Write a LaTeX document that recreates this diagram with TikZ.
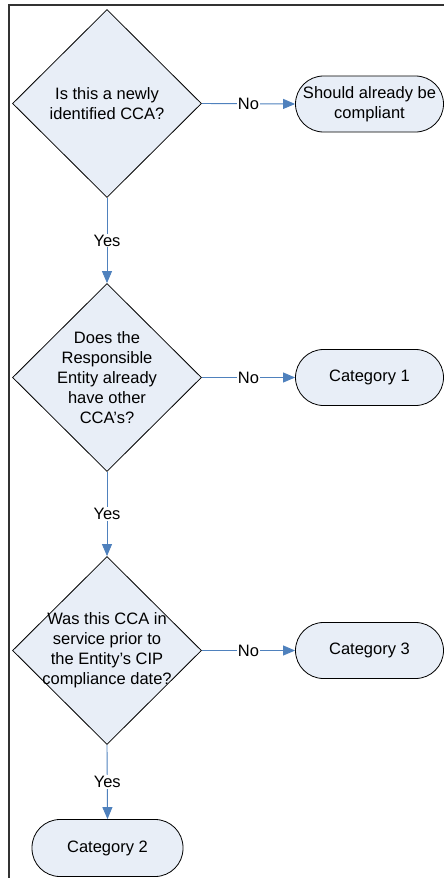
\documentclass[tikz,border=0pt]{standalone}
\usepackage{fontspec}
\setmainfont{Liberation Sans}
\usetikzlibrary{shapes.geometric,arrows.meta}
\definecolor{boxfill}{HTML}{E8EEF7}
\definecolor{flowblue}{HTML}{4F81BD}
\definecolor{framegray}{HTML}{333333}
\tikzset{
  decision/.style={diamond, draw=black, fill=boxfill, line width=0.8pt,
    minimum width=189pt, minimum height=188pt, inner sep=0pt, aspect=1},
  qtext/.style={align=center, font=\fontsize{16.5}{20}\selectfont, inner sep=0pt},
  terminal/.style={rectangle, rounded corners=28pt, draw=black, fill=boxfill,
    line width=0.8pt, minimum height=56pt, align=center, inner sep=0pt,
    font=\fontsize{16.5}{20}\selectfont},
  flow/.style={draw=flowblue, line width=0.9pt,
    -{Triangle[length=12pt,width=10pt,fill=flowblue]}},
  answer/.style={fill=white, inner sep=1pt, font=\fontsize{16.5}{20}\selectfont}
}
\begin{document}
\begin{tikzpicture}[x=1pt,y=-1pt]
  \useasboundingbox (0,0) rectangle (444,878);
  % outer frame (open at right and bottom)
  \draw[framegray, line width=2pt] (8.5,890) -- (8.5,5) -- (450,5);

  % decisions
  \node[decision] (d1) at (107,103.5) {};
  \node[qtext] (t1) at (d1.center) {Is this a newly\\identified CCA?};
  \node[decision] (d2) at (107,377.5) {};
  \node[qtext] (t2) at (d2.center) {Does the\\Responsible\\Entity already\\have other\\CCA’s?};
  \node[decision] (d3) at (107,650.5) {};
  \node[qtext] (t3) at (d3.center) {Was this CCA in\\service prior to\\the Entity’s CIP\\compliance date?};

  % outcomes
  \node[terminal, minimum width=148pt] (e1) at (369.5,104) {Should already be\\compliant};
  \node[terminal, minimum width=148pt] (e2) at (369.5,377.5) {Category 1};
  \node[terminal, minimum width=148pt] (e3) at (369.5,650.5) {Category 3};
  \node[terminal, minimum width=151pt, minimum height=57pt] (e4) at (107.5,848) {Category 2};

  % connectors
  \draw[flow] (d1.east) -- node[answer] (n1) {No} (e1.west);
  \draw[flow] (d2.east) -- node[answer] (n2) {No} (e2.west);
  \draw[flow] (d3.east) -- node[answer] (n3) {No} (e3.west);
  \draw[flow] (d1.south) -- node[answer] (y1) {Yes} (d2.north);
  \draw[flow] (d2.south) -- node[answer] (y2) {Yes} (d3.north);
  \draw[flow] (d3.south) -- node[answer] (y3) {Yes} (e4.north);
\end{tikzpicture}
\end{document}
